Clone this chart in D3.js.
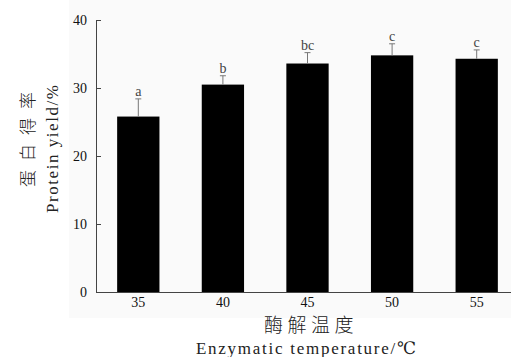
<!DOCTYPE html>
<html>
<head>
<meta charset="utf-8">
<script src="https://cdn.jsdelivr.net/npm/d3@7"></script>
<style>
body{margin:0;background:#fff;}
text{font-family:"Liberation Serif","DejaVu Serif",serif;}
</style>
</head>
<body>
<div class="container"></div>
<script>
var temps=["35","40","45","50","55"];
var yieldVals=[25.8,30.5,33.6,34.8,34.3];
var errVals=[2.6,1.3,1.6,1.7,1.3];
var letters=["a","b","bc","c","c"];
var yTicks=[0,10,20,30,40];

var width=511, height=357;
var svg=d3.select(".container").append("svg").attr("width",width).attr("height",height);

// faint backdrop behind the plot
svg.append("rect").attr("x",69).attr("y",0).attr("width",width-69).attr("height",318).attr("fill","#fafafa");

var y=d3.scaleLinear().domain([0,40]).range([292,20]);
var x=d3.scaleBand().domain(temps).range([96,519]).paddingInner(0.5).paddingOuter(0.25);

var g=svg.append("g");

g.selectAll("rect.bar")
  .data(yieldVals)
  .enter().append("rect")
  .attr("class","bar")
  .attr("x",function(d,i){return x(temps[i]);})
  .attr("y",function(d){return y(d);})
  .attr("width",x.bandwidth())
  .attr("height",function(d){return y(0)-y(d);})
  .attr("fill","#000");

// error bars (upper only)
var cap=3;
g.selectAll("line.err")
  .data(yieldVals)
  .enter().append("line")
  .attr("class","err")
  .attr("x1",function(d,i){return x(temps[i])+x.bandwidth()/2;})
  .attr("x2",function(d,i){return x(temps[i])+x.bandwidth()/2;})
  .attr("y1",function(d){return y(d);})
  .attr("y2",function(d,i){return y(d+errVals[i]);})
  .attr("stroke","#777").attr("stroke-width",1);
g.selectAll("line.cap")
  .data(yieldVals)
  .enter().append("line")
  .attr("class","cap")
  .attr("x1",function(d,i){return x(temps[i])+x.bandwidth()/2-cap;})
  .attr("x2",function(d,i){return x(temps[i])+x.bandwidth()/2+cap;})
  .attr("y1",function(d,i){return y(d+errVals[i]);})
  .attr("y2",function(d,i){return y(d+errVals[i]);})
  .attr("stroke","#777").attr("stroke-width",1);

g.selectAll("text.sig")
  .data(letters)
  .enter().append("text")
  .attr("class","sig")
  .attr("x",function(d,i){return x(temps[i])+x.bandwidth()/2;})
  .attr("y",function(d,i){return y(yieldVals[i]+errVals[i])-3;})
  .attr("text-anchor","middle")
  .style("font-size","14px")
  .attr("fill","#444")
  .text(function(d){return d;});

var yAxis=d3.axisLeft(y).tickValues(yTicks).tickSizeInner(-5).tickSizeOuter(-5).tickPadding(9);
var ya=svg.append("g").attr("transform","translate(96,0)").call(yAxis);
ya.attr("font-family",null).attr("font-size",null);
ya.selectAll("text").style("font-size","14px").attr("fill","#111");
ya.select(".domain").attr("stroke","#444");
ya.selectAll(".tick line").attr("stroke","#444");

var xAxis=d3.axisBottom(x).tickSize(0).tickPadding(5);
var xa=svg.append("g").attr("transform","translate(0,292)").call(xAxis);
xa.attr("font-family",null).attr("font-size",null);
xa.selectAll("text").style("font-size","14px").attr("fill","#111");
xa.select(".domain").attr("stroke","#444");

// axis titles
svg.append("text")
  .attr("transform","translate(34,135) rotate(-90)")
  .attr("text-anchor","middle")
  .style("font-size","17px")
  .attr("letter-spacing",9)
  .attr("fill","#222")
  .style("font-family","Noto Sans CJK SC")
  .style("font-weight","300")
  .text("蛋白得率");
svg.append("text")
  .attr("transform","translate(58,149) rotate(-90)")
  .attr("text-anchor","middle")
  .style("font-size","17px")
  .attr("fill","#222")
  .attr("textLength",128)
  .text("Protein  yield/%");

svg.append("text")
  .attr("x",311).attr("y",332)
  .attr("text-anchor","middle")
  .style("font-size","19px")
  .attr("letter-spacing",4.5)
  .attr("fill","#222")
  .style("font-family","Noto Sans CJK SC")
  .style("font-weight","300")
  .text("酶解温度");
svg.append("text")
  .attr("x",306).attr("y",354)
  .attr("text-anchor","middle")
  .style("font-size","17px")
  .attr("fill","#222")
  .attr("textLength",220)
  .text("Enzymatic  temperature/℃");
</script>
</body>
</html>
